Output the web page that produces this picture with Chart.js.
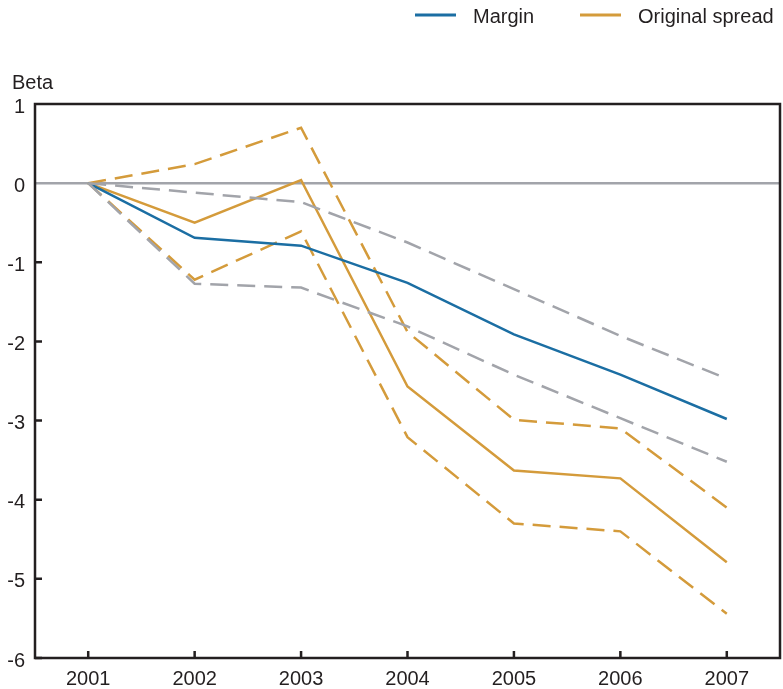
<!DOCTYPE html>
<html>
<head>
<meta charset="utf-8">
<script src="https://cdn.jsdelivr.net/npm/chart.js@4/dist/chart.umd.min.js"></script>
<style>
  html, body { margin: 0; padding: 0; background: #ffffff; }
  canvas { display: block; }
</style>
</head>
<body>
<canvas id="chart" width="783" height="689"></canvas>
<script>
// Categories
const years = ['2001', '2002', '2003', '2004', '2005', '2006', '2007'];

// Point estimates
const marginBeta = [0, -0.69, -0.79, -1.26, -1.91, -2.42, -2.98];
const spreadBeta = [0, -0.50, 0.04, -2.57, -3.63, -3.73, -4.79];

// Confidence bands (upper / lower)
const marginUpper = [0, -0.12, -0.24, -0.75, -1.34, -1.93, -2.47];
const marginLower = [0, -1.27, -1.32, -1.81, -2.42, -2.97, -3.52];
const spreadUpper = [0, 0.24, 0.70, -1.88, -2.99, -3.10, -4.10];
const spreadLower = [0, -1.22, -0.61, -3.21, -4.30, -4.40, -5.44];

// Axis ticks
const yTicks = [1, 0, -1, -2, -3, -4, -5, -6];

const BLUE = '#1b6ea3';
const ORANGE = '#d49b3b';
const GRAY = '#a2a4aa';
const AXIS = '#231f20';
const FONT = '"Liberation Sans", Arial, Helvetica, sans-serif';
const DASH = [18, 9];

const legendItems = [
  { text: 'Margin', color: BLUE, lineX: 415, textX: 473 },
  { text: 'Original spread', color: ORANGE, lineX: 580, textX: 638 }
];

// Box frame, inward tick marks, legend and unit label
const framePlugin = {
  id: 'frame',
  afterDraw(chart) {
    const { ctx, chartArea: a, scales } = chart;
    ctx.save();
    ctx.strokeStyle = AXIS;
    ctx.lineWidth = 2.5;
    ctx.strokeRect(a.left, a.top, a.right - a.left, a.bottom - a.top);

    ctx.beginPath();
    scales.y.ticks.forEach(t => {
      if (t.value === 0 || t.value === scales.y.max) return;
      const py = scales.y.getPixelForValue(t.value);
      ctx.moveTo(a.left, py);
      ctx.lineTo(a.left + 7, py);
    });
    scales.x.ticks.forEach((t, i) => {
      const px = scales.x.getPixelForTick(i);
      ctx.moveTo(px, a.bottom);
      ctx.lineTo(px, a.bottom - 7);
    });
    ctx.stroke();

    // legend
    ctx.font = '20px ' + FONT;
    ctx.textBaseline = 'middle';
    ctx.textAlign = 'left';
    legendItems.forEach(it => {
      ctx.strokeStyle = it.color;
      ctx.lineWidth = 3;
      ctx.beginPath();
      ctx.moveTo(it.lineX, 15);
      ctx.lineTo(it.lineX + 41, 15);
      ctx.stroke();
      ctx.fillStyle = '#231f20';
      ctx.fillText(it.text, it.textX, 17);
    });

    // unit label
    ctx.fillText('Beta', 12, 83);
    ctx.restore();
  }
};

function line(label, data, color, dashed) {
  return {
    label,
    data,
    borderColor: color,
    backgroundColor: color,
    borderWidth: 2.5,
    borderDash: dashed ? DASH : [],
    pointRadius: 0,
    pointHoverRadius: 0,
    tension: 0,
    fill: false
  };
}

new Chart(document.getElementById('chart'), {
  type: 'line',
  data: {
    labels: years,
    datasets: [
      line('Margin upper', marginUpper, GRAY, true),
      line('Margin lower', marginLower, GRAY, true),
      line('Margin', marginBeta, BLUE, false),
      line('Original spread upper', spreadUpper, ORANGE, true),
      line('Original spread lower', spreadLower, ORANGE, true),
      line('Original spread', spreadBeta, ORANGE, false)
    ]
  },
  options: {
    responsive: false,
    animation: false,
    devicePixelRatio: 1,
    layout: { padding: { top: 104, right: 3, bottom: 0, left: 0 } },
    plugins: {
      legend: { display: false },
      title: { display: false },
      tooltip: { enabled: false }
    },
    scales: {
      x: {
        type: 'category',
        offset: true,
        grid: { display: false, drawTicks: false },
        border: { display: false },
        ticks: {
          color: '#231f20',
          font: { family: FONT, size: 20 },
          padding: 9,
          maxRotation: 0
        },
        afterFit(scale) { scale.height = 31; }
      },
      y: {
        min: -6,
        max: 1,
        afterBuildTicks(scale) {
          scale.ticks = yTicks.map(v => ({ value: v }));
        },
        ticks: {
          color: '#231f20',
          font: { family: FONT, size: 20 },
          padding: 10,
          labelOffset: 3,
          callback: v => String(v)
        },
        grid: {
          drawTicks: false,
          lineWidth: 2.5,
          color: ctx => (ctx.tick && ctx.tick.value === 0 ? GRAY : 'rgba(0,0,0,0)')
        },
        border: { display: false },
        afterFit(scale) { scale.width = 35; }
      }
    }
  },
  plugins: [framePlugin]
});
</script>
</body>
</html>
